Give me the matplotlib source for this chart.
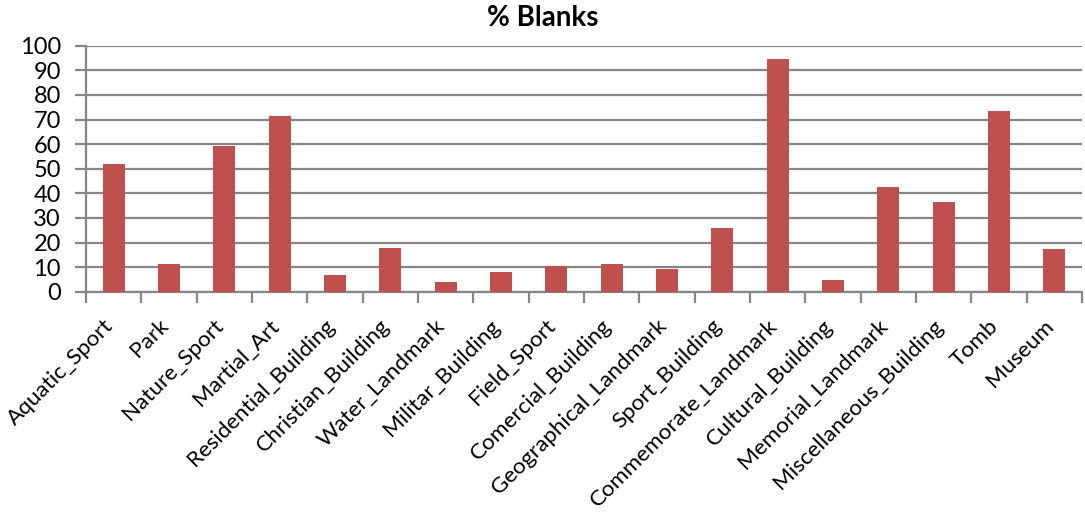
import matplotlib
matplotlib.use("Agg")
import matplotlib.pyplot as plt
import matplotlib.transforms as mtransforms
import numpy as np

categories = [
    "Aquatic_Sport", "Park", "Nature_Sport", "Martial_Art", "Residential_Building",
    "Christian_Building", "Water_Landmark", "Militar_Building", "Field_Sport",
    "Comercial_Building", "Geographical_Landmark", "Sport_Building",
    "Commemorate_Landmark", "Cultural_Building", "Memorial_Landmark",
    "Miscellaneous_Building", "Tomb", "Museum",
]
blanks_pct = [52.0, 11.1, 59.2, 71.4, 6.6, 17.9, 3.8, 7.9, 10.6,
              11.1, 9.2, 25.9, 94.6, 4.6, 42.5, 36.6, 73.3, 17.2]
y_ticks = list(range(0, 101, 10))

plt.rcParams["font.family"] = ["Lato", "DejaVu Sans"]

W, H = 1085, 523
DPI = 100
fig = plt.figure(figsize=(W / DPI, H / DPI), dpi=DPI)
left, right, top, bottom = 86, 1082, 45.7, 291.7
ax = fig.add_axes([left / W, 1 - bottom / H, (right - left) / W, (bottom - top) / H])

grid_col = "#868686"
bar_col = "#C0504D"
x = np.arange(len(categories))
ax.bar(x, blanks_pct, width=0.4, color=bar_col, zorder=3)

ax.set_xlim(-0.5, len(categories) - 0.5)
ax.set_ylim(0, 100)
ax.set_yticks(y_ticks)
ax.set_yticklabels([str(v) for v in y_ticks], fontsize=17)
ax.yaxis.grid(True, color=grid_col, linewidth=1.6, zorder=0)
ax.set_axisbelow(True)

# Category separators as tick marks
ax.set_xticks(np.arange(len(categories) + 1) - 0.5)
ax.set_xticklabels([])
ax.tick_params(axis="x", which="major", length=8, width=1.6, color=grid_col, direction="out")
ax.tick_params(axis="y", length=8, width=1.6, color=grid_col, direction="out", pad=10)

# Rotated category names hanging below each bar
label_tf = ax.get_xaxis_transform() + mtransforms.ScaledTranslation(
    -11 / DPI, -24 / DPI, fig.dpi_scale_trans)
for xi, name in zip(x, categories):
    ax.text(xi, 0, name, transform=label_tf, rotation=45, ha="right", va="top",
            rotation_mode="anchor", fontsize=16.2, clip_on=False)

for side in ("top", "right"):
    ax.spines[side].set_visible(False)
for side in ("left", "bottom"):
    ax.spines[side].set_color(grid_col)
    ax.spines[side].set_linewidth(1.6)

fig.text(0.5, 1 - 18 / H, "% Blanks", ha="center", va="center",
         fontsize=20, fontweight="bold")

fig.savefig("out.png", dpi=DPI)
